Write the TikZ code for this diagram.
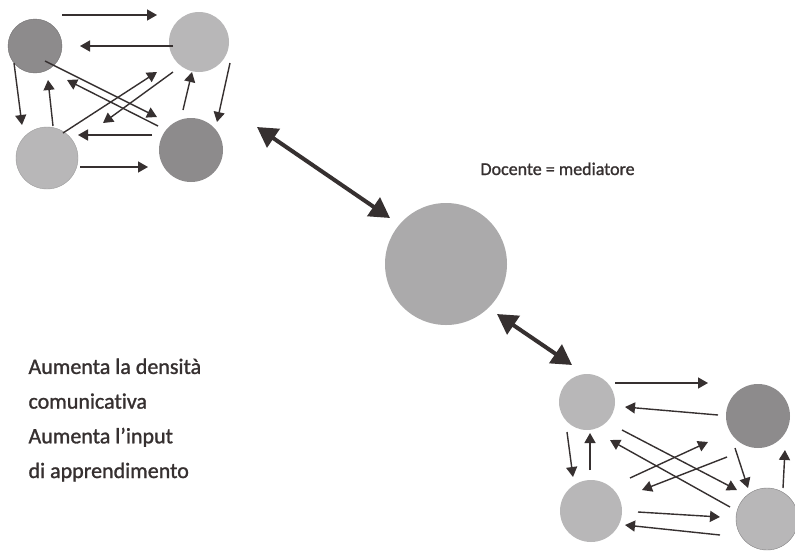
\documentclass[tikz,border=0pt]{standalone}
\usepackage{fontspec}
\setmainfont{Carlito}[Ligatures=NoCommon, BoldFont={Carlito}, BoldFeatures={FakeBold=1.2}]
\usetikzlibrary{arrows.meta}

\definecolor{darkdot}{HTML}{8D8B8C}
\definecolor{lightdot}{HTML}{B8B7B8}
\definecolor{middot}{HTML}{ABAAAB}
\definecolor{ink}{HTML}{363030}

\begin{document}
\begin{tikzpicture}[x=1pt, y=-1pt, >={Triangle[length=10pt,width=11pt]},
                    dot/.style={circle, inner sep=0pt, minimum size=#1},
                    link/.style={->, ink, line width=1.4pt},
                    bigl/.style={<->, ink, line width=4pt, >={Triangle[length=20pt,width=22pt]}},
                    label/.style={anchor=base west, text=ink}]

  \fill[white] (0,0) rectangle (795,550);
  \useasboundingbox (0,0) rectangle (795,550);

  % group of pupils, top left
  \node[dot=54pt, fill=darkdot, draw=darkdot!80!black, thin] (A) at (35,46) {};
  \node[dot=60pt, fill=lightdot] (B) at (199,42) {};
  \node[dot=62pt, fill=lightdot, draw=lightdot!85!black, thin] (C) at (47,158) {};
  \node[dot=64pt, fill=darkdot] (D) at (191,150) {};

  % teacher
  \node[dot=122pt, fill=middot] (M) at (446,264) {};

  % group of pupils, bottom right
  \node[dot=56pt, fill=lightdot] (E) at (587,402) {};
  \node[dot=64pt, fill=darkdot] (F) at (758,416) {};
  \node[dot=62pt, fill=lightdot] (G) at (591,511) {};
  \node[dot=62pt, fill=lightdot, draw=lightdot!70!black, thin] (H) at (767,519) {};

  \path[link]
    ([shift={(27,-31)}]A.center) edge ([shift={(-42,-27)}]B.center)
    ([shift={(-26,4)}]B.center)  edge ([shift={(45,0)}]A.center)
    ([shift={(-21,17)}]A.center) edge ([shift={(-25,-33)}]C.center)
    ([shift={(6,-32)}]C.center)  edge ([shift={(13,34)}]A.center)
    ([shift={(10,15)}]A.center)  edge ([shift={(-34,-33)}]D.center)
    ([shift={(-33,-24)}]D.center) edge ([shift={(32,34)}]A.center)
    ([shift={(16,-25)}]C.center) edge ([shift={(-42,30)}]B.center)
    ([shift={(-26,30)}]B.center) edge ([shift={(56,-35)}]C.center)
    ([shift={(-8,-40)}]D.center) edge ([shift={(-7,30)}]B.center)
    ([shift={(31,21)}]B.center)  edge ([shift={(26,-28)}]D.center)
    ([shift={(-39,-15)}]D.center) edge ([shift={(31,-23)}]C.center)
    ([shift={(33,9)}]C.center)   edge ([shift={(-43,17)}]D.center);

  \path[link]
    ([shift={(28,-19)}]E.center) edge ([shift={(-50,-33)}]F.center)
    ([shift={(-40,-1)}]F.center) edge ([shift={(38,5)}]E.center)
    ([shift={(-20,30)}]E.center) edge ([shift={(-18,-34)}]G.center)
    ([shift={(-1,-41)}]G.center) edge ([shift={(3,31)}]E.center)
    ([shift={(35,28)}]E.center)  edge ([shift={(-30,-29)}]H.center)
    ([shift={(-37,-12)}]H.center) edge ([shift={(23,38)}]E.center)
    ([shift={(39,-33)}]G.center) edge ([shift={(-50,26)}]F.center)
    ([shift={(-31,41)}]F.center) edge ([shift={(51,-21)}]G.center)
    ([shift={(-23,32)}]F.center) edge ([shift={(-19,-31)}]H.center)
    ([shift={(16,-31)}]H.center) edge ([shift={(27,34)}]F.center)
    ([shift={(47,1)}]G.center)   edge ([shift={(-47,-2)}]H.center)
    ([shift={(-47,16)}]H.center) edge ([shift={(34,14)}]G.center);

  % teacher links
  \draw[bigl] ([shift={(66,-23)}]D.center) -- ([shift={(-56,-46)}]M.center);
  \draw[bigl] ([shift={(51,50)}]M.center) -- ([shift={(-15,-37)}]E.center);

  \node[label, font=\fontsize{18}{35}\selectfont\bfseries] (doc) at (477,175) {Docente = mediatore};
  \node[label, align=left, font=\fontsize{22}{34.7}\selectfont\bfseries] (gain) at (25,478)
    {Aumenta la densità\\comunicativa\\Aumenta l’input\\di apprendimento};
\end{tikzpicture}
\end{document}
